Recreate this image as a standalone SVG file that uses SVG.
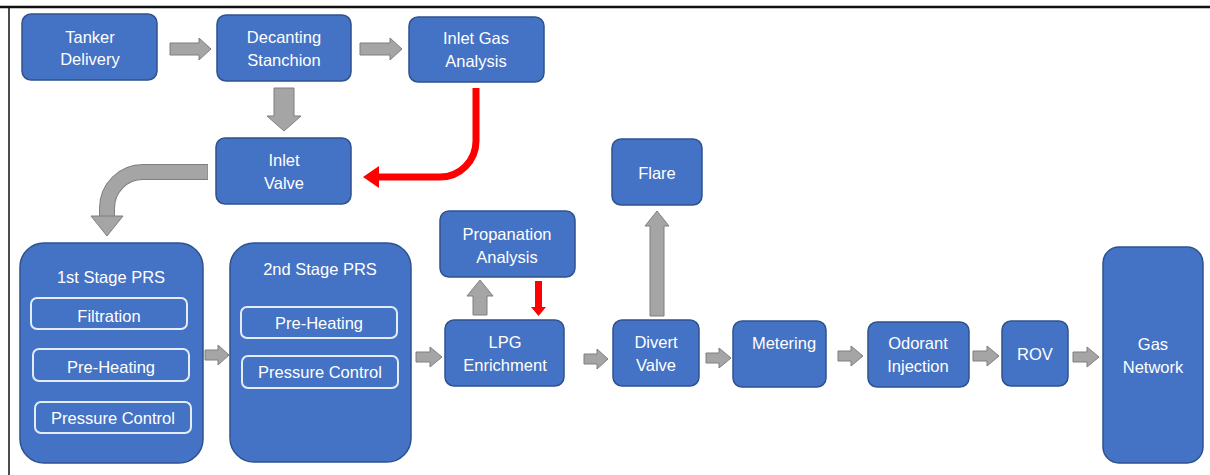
<svg xmlns="http://www.w3.org/2000/svg" width="1210" height="475" viewBox="0 0 1210 475">
<style>
.n{fill:#4472C4;stroke:#2F528F;stroke-width:1.5}
.s{fill:none;stroke:#E4ECF7;stroke-width:2}
.t{font-family:"Liberation Sans",Arial,sans-serif;font-size:16.5px;fill:#FFFFFF;text-anchor:middle}
.g{fill:#A5A5A5;stroke:#7F7F7F;stroke-width:1}
.r{fill:#FF0000}
</style>
<rect width="1210" height="475" fill="#FFFFFF"/>
<g id="frame">
<line x1="0" y1="7" x2="1210" y2="7" stroke="#111" stroke-width="2.5"/>
<line x1="9" y1="7" x2="9" y2="475" stroke="#111" stroke-width="1.5"/>
</g>
<g id="connectors">
<polygon class="g" points="170,43 199,43 199,38 211,49 199,60 199,55 170,55"/>
<polygon class="g" points="360,43 390,43 390,38 402,49 390,60 390,55 360,55"/>
<polygon class="g" points="274,88 294,88 294,116 301,116 284,131 267,116 274,116"/>
<path d="M208,172 L143,172 A36,36 0 0 0 107,208 L107,216" fill="none" stroke="#7F7F7F" stroke-width="16"/>
<path d="M207.5,172 L143,172 A36,36 0 0 0 107,208 L107,216.5" fill="none" stroke="#A5A5A5" stroke-width="14"/>
<polygon class="g" points="91,216 123,216 107,236"/>
<path d="M476,88 L476,141 A36,36 0 0 1 440,177 L377,177" fill="none" stroke="#FF0000" stroke-width="7"/>
<polygon class="r" points="363,177 379,166 379,188"/>
<polygon class="g" points="205,350 218,350 218,345 229,355 218,365 218,360 205,360"/>
<polygon class="g" points="416,352 430,352 430,347 442,357 430,367 430,362 416,362"/>
<polygon class="g" points="584,354 597,354 597,349 608,359 597,369 597,364 584,364"/>
<polygon class="g" points="706,353 719,353 719,348 731,358 719,368 719,363 706,363"/>
<polygon class="g" points="838,351 851,351 851,346 863,356 851,366 851,361 838,361"/>
<polygon class="g" points="973,351 987,351 987,346 999,356 987,366 987,361 973,361"/>
<polygon class="g" points="1073,352 1087,352 1087,347 1099,357 1087,367 1087,362 1073,362"/>
<polygon class="g" points="473,315 487,315 487,296 493,296 480,280 467,296 473,296"/>
<polygon class="g" points="650,316 664,316 664,226 669,226 657,211 645,226 650,226"/>
<polygon class="r" points="535,281 542,281 542,307 546,307 538.5,316 531,307 535,307"/>
</g>
<g id="tanker"><rect class="n" x="22" y="14" width="135" height="66" rx="9"/><text class="t" x="90" y="43">Tanker</text><text class="t" x="90" y="65">Delivery</text></g>
<g id="decanting"><rect class="n" x="217" y="15" width="134" height="66" rx="9"/><text class="t" x="284" y="43">Decanting</text><text class="t" x="284" y="66">Stanchion</text></g>
<g id="inletgas"><rect class="n" x="409" y="17" width="135" height="65" rx="9"/><text class="t" x="476" y="44">Inlet Gas</text><text class="t" x="476" y="67">Analysis</text></g>
<g id="inletvalve"><rect class="n" x="216" y="138" width="135" height="66" rx="9"/><text class="t" x="284" y="166">Inlet</text><text class="t" x="284" y="189">Valve</text></g>
<g id="prs1"><rect class="n" x="20" y="243" width="183" height="220" rx="24"/><text class="t" x="111" y="283">1st Stage PRS</text>
<rect class="s" x="31" y="298" width="156" height="31" rx="6"/><text class="t" x="109" y="322">Filtration</text>
<rect class="s" x="33" y="349" width="156" height="32" rx="6"/><text class="t" x="111" y="373">Pre-Heating</text>
<rect class="s" x="35" y="402" width="156" height="31" rx="6"/><text class="t" x="113" y="424">Pressure Control</text></g>
<g id="prs2"><rect class="n" x="230" y="243" width="181" height="219" rx="24"/><text class="t" x="320" y="275">2nd Stage PRS</text>
<rect class="s" x="241" y="307" width="156" height="31" rx="6"/><text class="t" x="319" y="329">Pre-Heating</text>
<rect class="s" x="242" y="356" width="156" height="32" rx="6"/><text class="t" x="320" y="378">Pressure Control</text></g>
<g id="propanation"><rect class="n" x="440" y="211" width="135" height="66" rx="9"/><text class="t" x="507" y="240">Propanation</text><text class="t" x="507" y="263">Analysis</text></g>
<g id="lpg"><rect class="n" x="445" y="320" width="119" height="66" rx="9"/><text class="t" x="505" y="348">LPG</text><text class="t" x="505" y="371">Enrichment</text></g>
<g id="flare"><rect class="n" x="612" y="139" width="90" height="66" rx="9"/><text class="t" x="657" y="179">Flare</text></g>
<g id="divert"><rect class="n" x="613" y="320" width="86" height="66" rx="9"/><text class="t" x="656" y="348">Divert</text><text class="t" x="656" y="371">Valve</text></g>
<g id="metering"><rect class="n" x="733" y="321" width="93" height="66" rx="9"/><text class="t" x="784" y="349">Metering</text></g>
<g id="odorant"><rect class="n" x="868" y="322" width="101" height="65" rx="9"/><text class="t" x="918" y="349">Odorant</text><text class="t" x="918" y="372">Injection</text></g>
<g id="rov"><rect class="n" x="1002" y="321" width="66" height="65" rx="9"/><text class="t" x="1035" y="360">ROV</text></g>
<g id="gasnetwork"><rect class="n" x="1103" y="247" width="100" height="216" rx="16"/><text class="t" x="1153" y="350">Gas</text><text class="t" x="1153" y="373">Network</text></g>
</svg>
